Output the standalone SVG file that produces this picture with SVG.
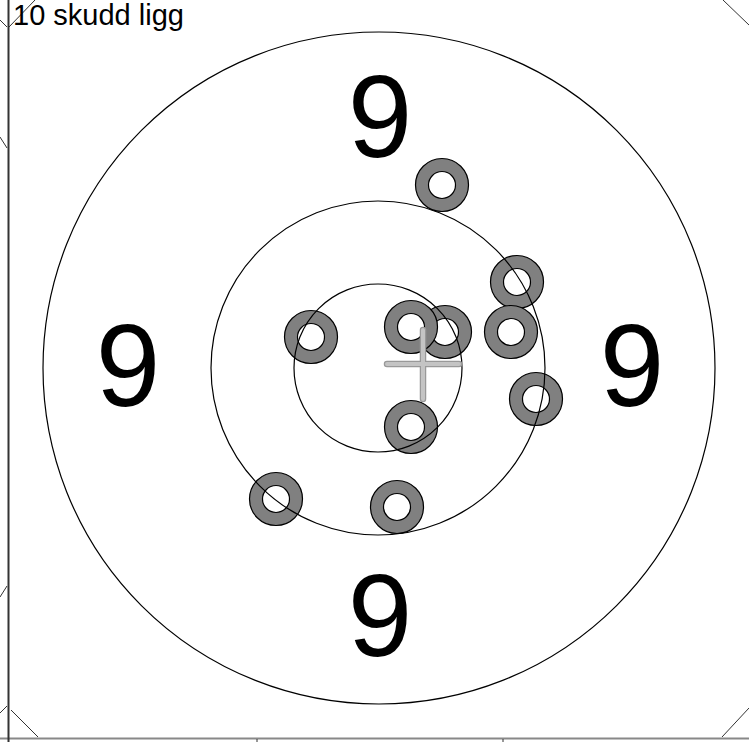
<svg xmlns="http://www.w3.org/2000/svg" width="749" height="742" viewBox="0 0 749 742">
<style>
.ring{fill:none;stroke:#000;stroke-width:1.2}
.shot-o{fill:#808080;stroke:#000;stroke-width:1.2}
.shot-i{fill:#fff;stroke:#000;stroke-width:1.2}
.num{font-family:"Liberation Sans",Arial,sans-serif;font-size:116px;fill:#000;text-anchor:middle}
.lbl{font-family:"Liberation Sans",Arial,sans-serif;font-size:29px;fill:#000}
.diag{stroke:#333;stroke-width:1;fill:none}
</style>
<defs>
<g id="shot"><circle class="shot-o" r="26.5"/><circle class="shot-i" r="13.5"/></g>
</defs>
<rect width="749" height="742" fill="#fff"/>
<g id="frame">
<line class="diag" x1="35" y1="0" x2="9" y2="27"/>
<line class="diag" x1="0" y1="20" x2="7" y2="27"/>
<line class="diag" x1="0" y1="137" x2="7" y2="148"/>
<line class="diag" x1="7" y1="586" x2="0" y2="597"/>
<line class="diag" x1="0" y1="713" x2="7" y2="706"/>
<line class="diag" x1="11" y1="710" x2="38" y2="737"/>
<line class="diag" x1="723" y1="0" x2="749" y2="25"/>
<line class="diag" x1="722" y1="737" x2="749" y2="708"/>
<line x1="0" y1="738.5" x2="749" y2="738.5" stroke="#888" stroke-width="2"/>
<line x1="8.5" y1="0" x2="8.5" y2="742" stroke="#333" stroke-width="2"/>
<line x1="257" y1="739" x2="257" y2="742" stroke="#333" stroke-width="1"/>
<line x1="503" y1="739" x2="503" y2="742" stroke="#333" stroke-width="1"/>
</g>
<g id="numbers">
<text class="num" x="380" y="157">9</text>
<text class="num" x="128" y="406">9</text>
<text class="num" x="632" y="406">9</text>
<text class="num" x="380" y="656">9</text>
</g>
<g id="shots">
<use href="#shot" x="442" y="185"/>
<use href="#shot" x="517" y="282"/>
<use href="#shot" x="311" y="337"/>
<use href="#shot" x="445" y="332"/>
<use href="#shot" x="411" y="327"/>
<use href="#shot" x="511" y="332"/>
<use href="#shot" x="536" y="399"/>
<use href="#shot" x="411" y="427"/>
<use href="#shot" x="276" y="499"/>
<use href="#shot" x="397" y="507"/>
</g>
<g id="rings">
<circle class="ring" cx="379" cy="368" r="336"/>
<circle class="ring" cx="378" cy="368" r="167"/>
<circle class="ring" cx="378" cy="368" r="84"/>
</g>
<g id="cross">
<path d="M423 330V399M387 364H459" stroke="#999" stroke-width="6.5" stroke-linecap="round" fill="none"/>
<path d="M423 330V399M387 364H459" stroke="#c4c4c4" stroke-width="4" stroke-linecap="round" fill="none"/>
</g>
<text class="lbl" x="13" y="25">10 skudd ligg</text>
</svg>
